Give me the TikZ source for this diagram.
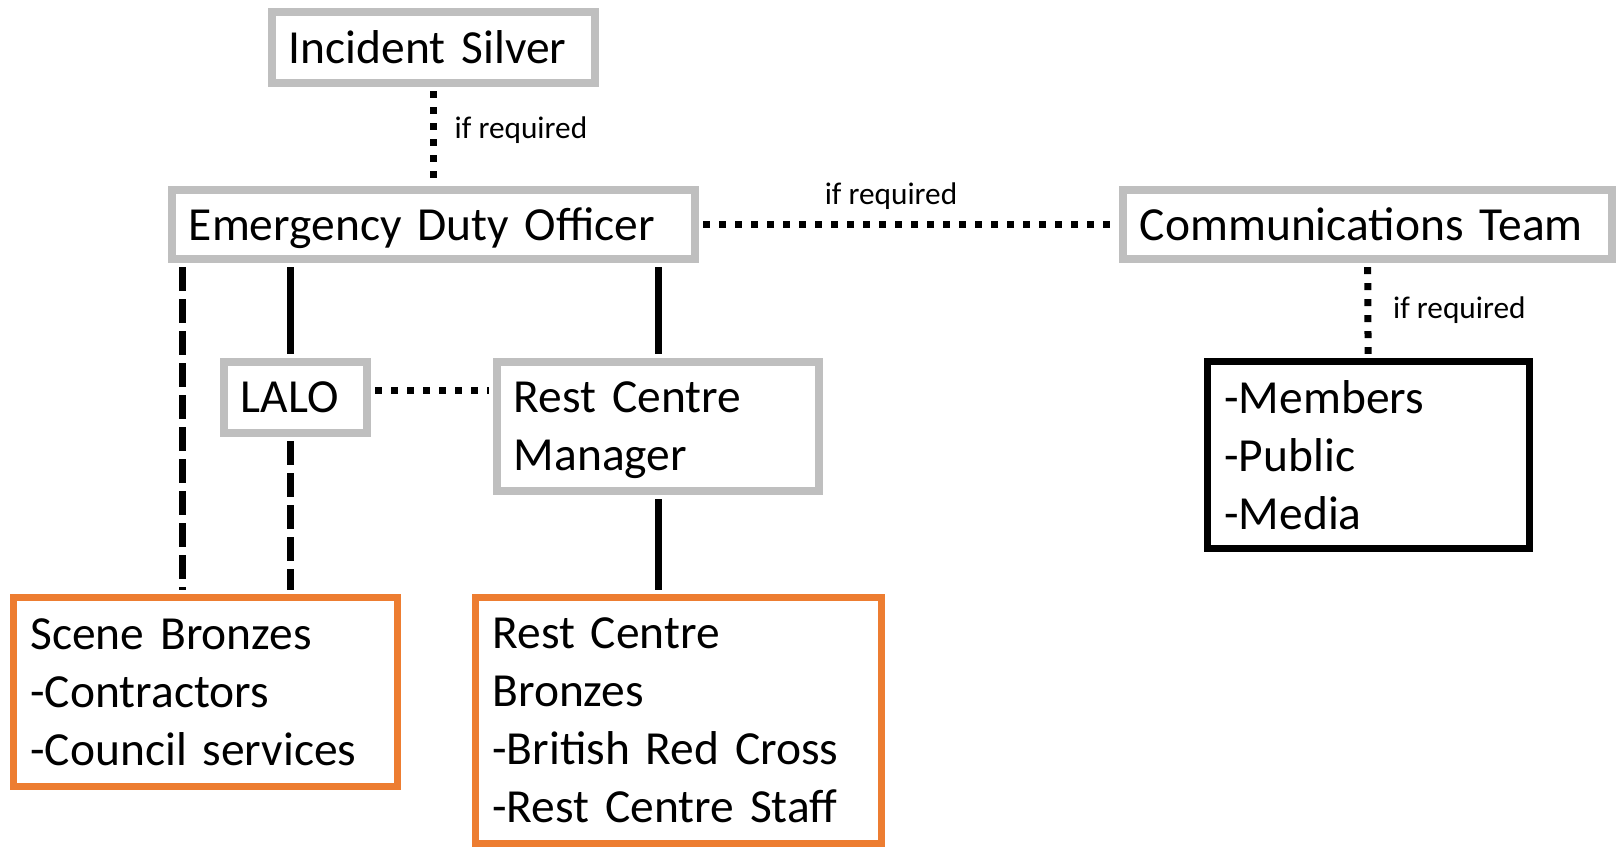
\documentclass[tikz,border=0pt]{standalone}
\usepackage{fontspec}
\setmainfont{Carlito}
\usepackage{tikz}
\usetikzlibrary{positioning}
\definecolor{boxgray}{RGB}{191,191,191}
\definecolor{boxorange}{RGB}{237,125,49}
\newcommand{\textdrop}{\par\vspace{-0.08cm}}
\tikzstyle{box} = [rectangle, fill=white, align=left, inner xsep=1.7mm, inner ysep=0pt, font=\fontsize{13.5}{16.5}\selectfont]
\tikzstyle{silver} = [box, draw=boxgray, line width=0.8mm, execute at end node=\textdrop]
\tikzstyle{bronze} = [box, draw=boxorange, line width=0.7mm]
\tikzstyle{outer} = [box, draw=black, line width=0.7mm]
\tikzstyle{note} = [font=\fontsize{8.9}{10.5}\selectfont]
\tikzstyle{solidline} = [line width=0.7mm, shorten <=0.4mm, shorten >=0.4mm]
\tikzstyle{dashline} = [solidline, dash pattern=on 2.4mm off 0.8mm]
\tikzstyle{dotline} = [line width=0.7mm, shorten <=0.4mm, shorten >=0.4mm, dash pattern=on 0.7mm off 0.9mm]

\begin{document}
\begin{tikzpicture}[x=0.01cm, y=-0.01cm]
		\useasboundingbox (0,0) rectangle (1619,851);

		\node (silver) [silver, text width=2.89cm, minimum height=0.71cm] at (433.5,47.5) {Incident Silver};
		\node (duty) [silver, text width=4.89cm, minimum height=0.69cm] at (433.5,224.5) {Emergency Duty Officer};
		\node (comms) [silver, text width=4.55cm, minimum height=0.69cm] at (1367.5,224.5) {Communications Team};
		\node (lalo) [silver, text width=1.09cm, minimum height=0.71cm] at (295.5,397.5) {LALO};
		\node (manager) [silver, text width=2.88cm, minimum height=1.29cm] at (658,426.5) {Rest Centre\\Manager};
		\node (public) [outer, text width=2.88cm, minimum height=1.87cm] at (1368.5,455) {-Members\\-Public\\-Media};
		\node (bronze1) [bronze, text width=3.50cm, minimum height=1.89cm] at (205.5,692) {Scene Bronzes\\-Contractors\\-Council services};
		\node (bronze2) [bronze, text width=3.72cm, minimum height=2.46cm] at (678.5,720.5) {Rest Centre\\Bronzes\\-British Red Cross\\-Rest Centre Staff};

		\draw [dotline] (silver) -- node [note, right, pos=0.44, xshift=0.06cm] {if required} (duty);
		\draw [dotline] (duty) -- node [note, above, xshift=-0.18cm] {if required} (comms);
		\draw [dotline] (comms) -- node [note, right, pos=0.5, xshift=0.1cm] {if required} (public);
		\draw [dashline] ([xshift=0.15cm]duty.south west) -- ([xshift=0.15cm]duty.south west |- bronze1.north);
		\draw [solidline] ([xshift=-0.05cm]lalo.north |- duty.south) -- ([xshift=-0.05cm]lalo.north);
		\draw [dashline] ([xshift=-0.05cm]lalo.south) -- ([xshift=-0.05cm]lalo.south |- bronze1.north);
		\draw [solidline] (manager.north |- duty.south) -- (manager.north);
		\draw [solidline] (manager.south) -- (manager.south |- bronze2.north);
		\draw [dotline] ([yshift=0.075cm]lalo.east) -- ([yshift=0.075cm]lalo.east -| manager.west);
	\end{tikzpicture}
\end{document}
